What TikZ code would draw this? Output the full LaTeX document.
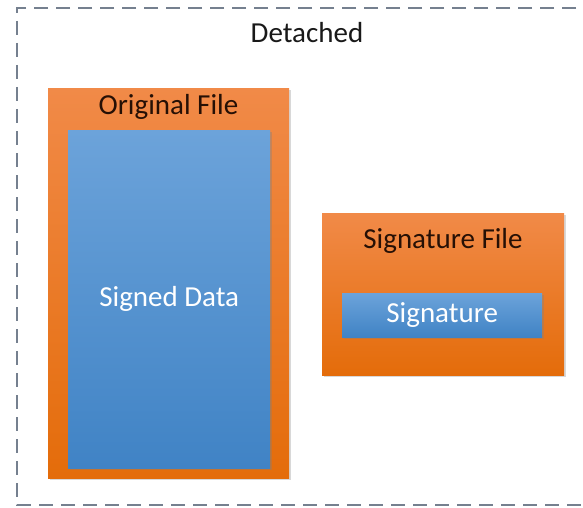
\documentclass[tikz,border=0pt]{standalone}
\usepackage{fontspec}
\setmainfont{Carlito}
\usetikzlibrary{shadows}
\definecolor{frameline}{HTML}{75808F}
\definecolor{orangetop}{HTML}{F18A48}
\definecolor{orangebot}{HTML}{E46C0A}
\definecolor{bluetop}{HTML}{6CA3DA}
\definecolor{bluebot}{HTML}{4083C5}
\definecolor{labeldark}{HTML}{261005}
\tikzset{
  filebox/.style={rectangle, inner sep=0pt, anchor=north west,
    top color=orangetop, bottom color=orangebot, draw=none,
    drop shadow={shadow xshift=1.5pt, shadow yshift=-2pt, opacity=0.3}},
  databox/.style={rectangle, inner sep=0pt, anchor=north west,
    top color=bluetop, bottom color=bluebot, draw=none,
    drop shadow={shadow xshift=1.5pt, shadow yshift=-2pt, opacity=0.35}},
  filelabel/.style={font=\fontsize{29}{32}\selectfont, text=labeldark},
  datalabel/.style={font=\fontsize{29}{32}\selectfont, text=white},
  framelabel/.style={font=\fontsize{29}{32}\selectfont, text=black!90}
}
\begin{document}
\begin{tikzpicture}[x=1pt, y=-1pt]
  \path[use as bounding box, fill=white] (0,0) rectangle (583,508);
  % dashed outer frame (right edge runs past the page)
  \draw[frameline, line width=2.8pt, dash pattern=on 14pt off 8pt]
    (620,8) -- (17,8) -- (17,505) -- (620,505);
  \node[framelabel] (title) at (307,33) {Detached};
  % original file with the signed data inside
  \node[filebox, minimum width=241pt, minimum height=390pt] (orig) at (48,88) {};
  \node[filelabel] (origlabel) at (168.5,107) {Original File};
  \node[databox, minimum width=202pt, minimum height=338pt] (data) at (68,130) {};
  \node[datalabel] (datalabel) at (data.center) {Signed Data};
  % separate signature file
  \node[filebox, minimum width=242pt, minimum height=162pt] (sigfile) at (322,213) {};
  \node[filelabel] (siglabel) at (443,241) {Signature File};
  \node[databox, minimum width=200pt, minimum height=44pt] (sig) at (342,293) {};
  \node[datalabel] (siglabel2) at (sig.center) {Signature};
\end{tikzpicture}
\end{document}
